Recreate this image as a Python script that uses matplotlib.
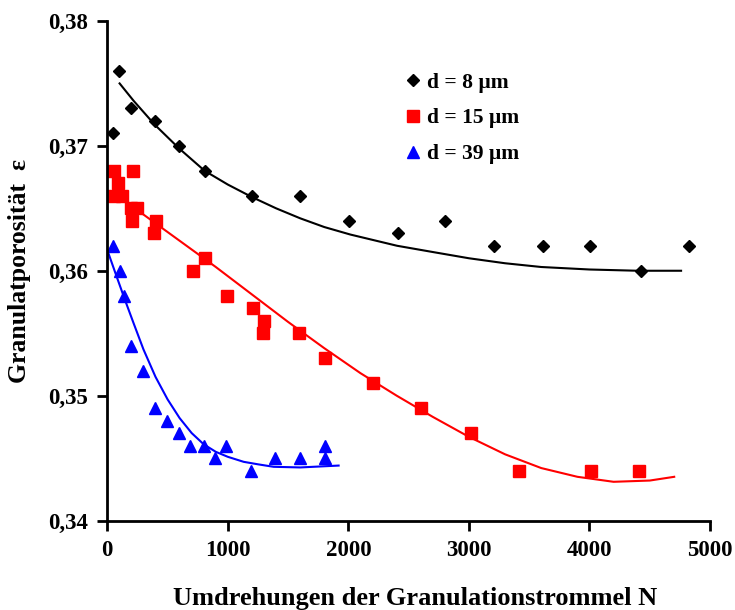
import matplotlib
matplotlib.use("Agg")
import matplotlib.pyplot as plt
from matplotlib.ticker import FuncFormatter

# measured points, d = 8 / 15 / 39 um
n_8 = [44, 94, 197, 393, 595, 808, 1200, 1601, 2005, 2412, 2799, 3211, 3612, 4002, 4431, 4824]
eps_8 = [0.371, 0.376, 0.373, 0.372, 0.370, 0.368, 0.366, 0.366, 0.364, 0.363, 0.364,
         0.362, 0.362, 0.362, 0.360, 0.362]

n_15 = [58, 210, 86, 58, 122, 197, 246, 205, 404, 384, 808, 708, 995, 1209, 1298, 1290,
        1593, 1804, 2203, 2601, 3021, 3414, 4014, 4415]
eps_15 = [0.368, 0.368, 0.367, 0.366, 0.366, 0.365, 0.365, 0.364, 0.364, 0.363, 0.361,
          0.360, 0.358, 0.357, 0.356, 0.355, 0.355, 0.353, 0.351, 0.349, 0.347, 0.344,
          0.344, 0.344]

n_39 = [47, 102, 138, 199, 293, 398, 495, 592, 683, 799, 896, 987, 1192, 1394, 1601,
        1809, 1809]
eps_39 = [0.362, 0.360, 0.358, 0.354, 0.352, 0.349, 0.348, 0.347, 0.346, 0.346, 0.345,
          0.346, 0.344, 0.345, 0.345, 0.346, 0.345]

# trend lines
fit_n_8 = [102, 219, 393, 595, 808, 1000, 1200, 1400, 1600, 1800, 2016, 2404, 2700,
           3000, 3300, 3600, 4000, 4400, 4760]
fit_eps_8 = [0.3750, 0.3736, 0.3717, 0.3698, 0.3680, 0.3669, 0.3659, 0.3650, 0.3642,
             0.3635, 0.3629, 0.3620, 0.3615, 0.3610, 0.3606, 0.3603, 0.3601, 0.3600,
             0.3600]

fit_n_15 = [100, 300, 600, 900, 1200, 1500, 1800, 2100, 2400, 2700, 3000, 3300, 3600,
            3900, 4200, 4500, 4703]
fit_eps_15 = [0.3659, 0.3645, 0.3624, 0.3603, 0.3581, 0.3559, 0.3538, 0.3518, 0.3500,
              0.3483, 0.3467, 0.3453, 0.3442, 0.3435, 0.3431, 0.3432, 0.3435]

fit_n_39 = [2, 75, 149, 218, 300, 400, 500, 600, 700, 800, 900, 1000, 1131, 1250, 1380,
            1601, 1919]
fit_eps_39 = [0.3616, 0.3596, 0.3576, 0.3558, 0.3537, 0.3515, 0.3497, 0.3482, 0.3470,
              0.3461, 0.3455, 0.3451, 0.3447, 0.3445, 0.3443, 0.34425, 0.3444]

xticks = [0, 1000, 2000, 3000, 4000, 5000]
yticks = [0.34, 0.35, 0.36, 0.37, 0.38]

plt.rcParams['font.family'] = ['Liberation Serif', 'DejaVu Serif']
plt.rcParams['font.weight'] = 'bold'

fig = plt.figure(figsize=(7.35, 6.1), dpi=100)
ax = fig.add_axes([0.146, 0.1467, 0.820, 0.8189])

ax.plot(fit_n_8, fit_eps_8, color='black', lw=1.5)
ax.plot(fit_n_15, fit_eps_15, color='#ff0000', lw=1.5)
ax.plot(fit_n_39, fit_eps_39, color='#0000ff', lw=1.5)

ax.plot(n_8, eps_8, 'D', color='black', ms=6, ls='none', label='d = 8 µm')
ax.plot(n_15, eps_15, 's', color='#ff0000', ms=8.5, ls='none', label='d = 15 µm')
ax.plot(n_39, eps_39, '^', color='#0000ff', ms=9, ls='none', label='d = 39 µm')

ax.set_xlim(0, 5000)
ax.set_ylim(0.34, 0.38)
ax.set_xticks(xticks)
ax.set_yticks(yticks)
ax.yaxis.set_major_formatter(FuncFormatter(lambda v, p: f"{v:.2f}".replace('.', ',')))

for s in ['top', 'right']:
    ax.spines[s].set_visible(False)
for s in ['left', 'bottom']:
    ax.spines[s].set_linewidth(2)
ax.tick_params(direction='out', length=7, width=2, labelsize=16.5, pad=7)

ax.set_xlabel('Umdrehungen der Granulationstrommel N', fontsize=19, fontweight='bold',
              labelpad=19)
ax.xaxis.label.set_x(0.51)
ax.set_ylabel('Granulatporosität  ε', fontsize=18.5, fontweight='bold', labelpad=12)

ax.legend(loc='upper left', bbox_to_anchor=(0.462, 0.935), frameon=False, fontsize=15.5,
          handlelength=0.7, handletextpad=0.3, labelspacing=0.72)

fig.savefig('out.png', dpi=100)
